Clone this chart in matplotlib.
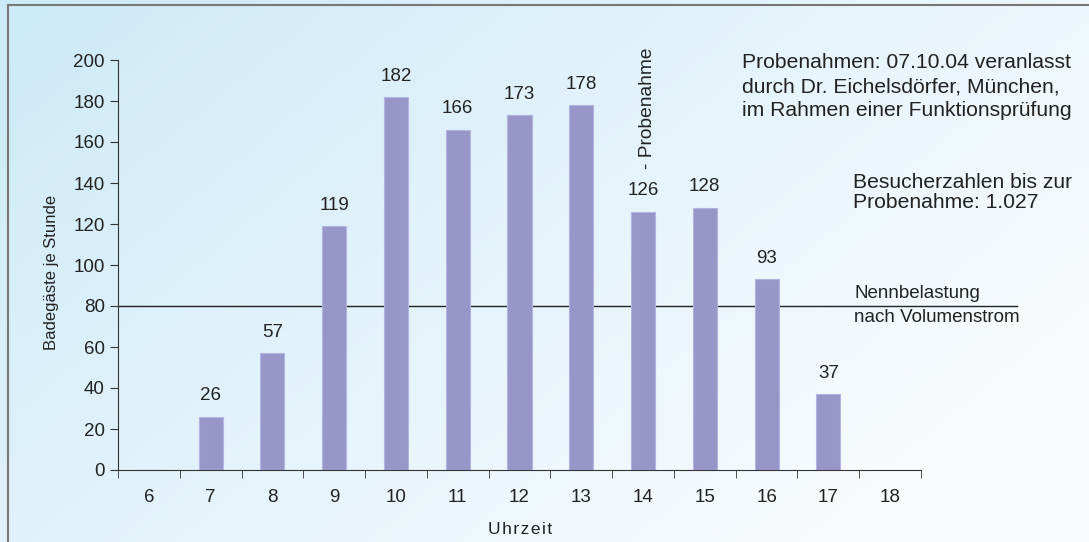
import numpy as np
import matplotlib.pyplot as plt

plt.rcParams['font.family'] = ['Liberation Sans', 'DejaVu Sans']

hours = ['6', '7', '8', '9', '10', '11', '12', '13', '14', '15', '16', '17', '18']
guests = [0, 26, 57, 119, 182, 166, 173, 178, 126, 128, 93, 37, 0]
nennbelastung = 80

W, H = 1089, 542
fig = plt.figure(figsize=(W / 100, H / 100), dpi=100)

def px(x, y):
    return x / W, 1 - y / H

# background gradient
bg = fig.add_axes([0, 0, 1, 1], zorder=-10)
gx, gy = np.meshgrid(np.linspace(0, 1, 300), np.linspace(0, 1, 150))
t = np.clip(gx * 0.75 + gy * 0.45, 0, 1)
c0 = np.array([204, 234, 247]) / 255
c1 = np.array([248, 251, 254]) / 255
img = c0[None, None, :] * (1 - t[..., None]) + c1[None, None, :] * t[..., None]
bg.imshow(img, aspect='auto', extent=[0, 1, 0, 1], origin='upper')
bg.set_xlim(0, 1)
bg.set_ylim(0, 1)
bg.axis('off')
# frame
bg.plot([8 / W, 8 / W], [0, 1 - 5 / H], color='#777777', lw=1.5)
bg.plot([8 / W, 1], [1 - 5 / H, 1 - 5 / H], color='#777777', lw=1.5)

ax = fig.add_axes([118 / W, 1 - 470 / H, (921 - 118) / W, 410 / H])
ax.patch.set_alpha(0)
x = np.arange(len(hours))
ax.bar(x, guests, width=0.39, color='#9696c8', edgecolor='#b4b4e0', linewidth=0.8, zorder=3)
for xi, v in zip(x, guests):
    if v > 0:
        ax.text(xi, v + 6, str(v), ha='center', va='bottom', fontsize=13.5, color='#222222')

ax.set_xlim(-0.5, len(hours) - 0.5)
ax.set_ylim(0, 200)
ax.set_yticks(range(0, 201, 20))
ax.set_xticks(x)
ax.set_xticklabels(hours)
ax.set_xticks(np.arange(-0.5, len(hours), 1), minor=True)
ax.tick_params(axis='x', which='major', length=0, pad=14, labelsize=13.5, labelcolor='#222222')
ax.tick_params(axis='x', which='minor', length=6, direction='out', color='#333333')
ax.tick_params(axis='y', length=6, direction='out', labelsize=13.5, labelcolor='#222222', color='#333333')
for s in ['top', 'right']:
    ax.spines[s].set_visible(False)
for s in ['left', 'bottom']:
    ax.spines[s].set_color('#333333')

# axis titles
fig.text(*px(52, 272), 'Badegäste je Stunde', rotation=90, ha='center', va='center',
         fontsize=12, color='#222222')
fig.text(*px(520, 529), '\u200a'.join('Uhrzeit'), ha='center', va='center',
         fontsize=12.5, color='#222222')

ax.axhline(nennbelastung, xmin=0, xmax=1.12, color='#222222', lw=1, clip_on=False, zorder=2)
fig.text(*px(854, 294), 'Nennbelastung', fontsize=13.5, va='center', color='#222222')
fig.text(*px(854, 318), 'nach Volumenstrom', fontsize=13.5, va='center', color='#222222')

fig.text(*px(648, 108), '- Probenahme', rotation=90, ha='center', va='center', fontsize=13.8,
         color='#222222')

for yy, line in zip([63, 87, 110], ['Probenahmen: 07.10.04 veranlasst',
                                    'durch Dr. Eichelsdörfer, München,',
                                    'im Rahmen einer Funktionsprüfung']):
    fig.text(*px(742, yy), line, ha='left', va='center', fontsize=15.2, color='#222222')
for yy, line in zip([182, 203], ['Besucherzahlen bis zur', 'Probenahme: 1.027']):
    fig.text(*px(853, yy), line, ha='left', va='center', fontsize=15.2, color='#222222')

fig.savefig('out.png', dpi=100)
